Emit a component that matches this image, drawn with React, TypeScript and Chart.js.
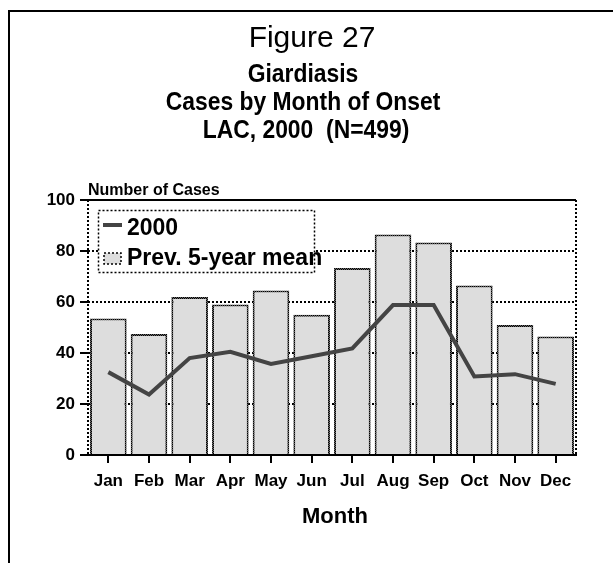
import React, { useEffect, useRef } from "react";
import { Chart, registerables } from "chart.js";
Chart.register(...registerables);

const months = ["Jan", "Feb", "Mar", "Apr", "May", "Jun", "Jul", "Aug", "Sep", "Oct", "Nov", "Dec"];
const cases2000 = [32.5, 23.7, 38, 40.5, 35.7, 38.7, 41.8, 58.8, 58.8, 30.8, 31.7, 27.9];
const prev5yrMean = [53.5, 47.5, 62, 59, 64.5, 55, 73.3, 86.5, 83.3, 66.5, 51, 46.5];
const yTickValues = [0, 20, 40, 60, 80, 100];
const figureLabel = "Figure 27";
const titleLines = ["Giardiasis", "Cases by Month of Onset", "LAC, 2000  (N=499)"];
const yAxisLabel = "Number of Cases";
const xAxisLabel = "Month";
const legendLabels = ["2000", "Prev. 5-year mean"];

const FONT = "'Liberation Sans', Arial, sans-serif";

function makeDotPattern(): CanvasPattern | string {
  const c = document.createElement("canvas");
  c.width = 2;
  c.height = 2;
  const g = c.getContext("2d");
  if (!g) return "#000";
  g.fillStyle = "#666666";
  g.fillRect(0, 0, 2, 2);
  g.fillStyle = "#000000";
  g.fillRect(0, 0, 1, 1);
  g.fillRect(1, 1, 1, 1);
  return g.createPattern(c, "repeat") || "#000";
}

function narrowText(ctx: CanvasRenderingContext2D, text: string, cx: number, y: number, font: string, sx: number, align: "center" | "left") {
  ctx.save();
  ctx.font = font;
  ctx.textAlign = align;
  ctx.translate(cx, y);
  ctx.scale(sx, 1);
  ctx.fillText(text, 0, 0);
  ctx.restore();
}

export default function App() {
  const ref = useRef<HTMLCanvasElement | null>(null);

  useEffect(() => {
    const canvas = ref.current;
    if (!canvas) return;
    const dot = makeDotPattern();

    const decor = {
      id: "decor",
      beforeDraw(chart: any) {
        const ctx = chart.ctx;
        ctx.save();
        ctx.fillStyle = "#fff";
        ctx.fillRect(0, 0, chart.width, chart.height);
        ctx.strokeStyle = "#000";
        ctx.lineWidth = 2;
        ctx.beginPath();
        ctx.moveTo(9, chart.height + 5);
        ctx.lineTo(9, 11);
        ctx.lineTo(chart.width + 5, 11);
        ctx.stroke();
        ctx.restore();
      },
      afterDraw(chart: any) {
        const ctx = chart.ctx;
        const a = chart.chartArea;
        ctx.save();
        // titles
        ctx.fillStyle = "#000";
        ctx.textBaseline = "alphabetic";
        narrowText(ctx, figureLabel, 312, 47, `30px ${FONT}`, 1, "center");
        const tf = `bold 26px ${FONT}`;
        narrowText(ctx, titleLines[0], 303, 82, tf, 0.88, "center");
        narrowText(ctx, titleLines[1], 303, 110, tf, 0.88, "center");
        narrowText(ctx, titleLines[2], 306, 138, tf, 0.88, "center");
        // axis labels
        narrowText(ctx, yAxisLabel, a.left, 195, `bold 16px ${FONT}`, 1, "left");
        narrowText(ctx, xAxisLabel, (a.left + a.right) / 2 + 3, 523, `bold 22px ${FONT}`, 1, "center");

        // top solid line
        ctx.strokeStyle = "#000";
        ctx.lineWidth = 2;
        ctx.setLineDash([]);
        ctx.beginPath();
        ctx.moveTo(a.left, a.top);
        ctx.lineTo(a.right, a.top);
        ctx.stroke();
        // left & right dotted
        ctx.setLineDash([2, 2]);
        ctx.beginPath();
        ctx.moveTo(a.left, a.top);
        ctx.lineTo(a.left, a.bottom);
        ctx.moveTo(a.right, a.top);
        ctx.lineTo(a.right, a.bottom);
        ctx.stroke();

        // legend
        const lx = 98.5, ly = 210.5, lw = 216, lh = 62;
        ctx.setLineDash([]);
        ctx.fillStyle = "#fff";
        ctx.fillRect(lx, ly, lw, lh);
        ctx.setLineDash([2, 2]);
        ctx.lineWidth = 1.5;
        ctx.strokeStyle = "#000";
        ctx.strokeRect(lx, ly, lw, lh);
        ctx.setLineDash([]);
        ctx.strokeStyle = "#444";
        ctx.lineWidth = 4;
        ctx.beginPath();
        ctx.moveTo(103, 225);
        ctx.lineTo(122, 225);
        ctx.stroke();
        ctx.fillStyle = "#dddddd";
        ctx.fillRect(104, 253, 17, 11);
        ctx.setLineDash([2, 2]);
        ctx.lineWidth = 1.5;
        ctx.strokeStyle = "#000";
        ctx.strokeRect(104, 253, 17, 11);
        ctx.setLineDash([]);
        ctx.fillStyle = "#000";
        narrowText(ctx, legendLabels[0], 127, 235, `bold 23px ${FONT}`, 1, "left");
        narrowText(ctx, legendLabels[1], 127, 265, `bold 23px ${FONT}`, 1, "left");
        ctx.restore();
      },
    };

    const chart = new Chart(canvas, {
      data: {
        labels: months,
        datasets: [
          {
            type: "line",
            label: legendLabels[0],
            data: cases2000,
            borderColor: "#444444",
            borderWidth: 4,
            pointRadius: 0,
            tension: 0,
            order: 0,
          },
          {
            type: "bar",
            label: legendLabels[1],
            data: prev5yrMean,
            backgroundColor: "#dddddd",
            borderColor: dot as any,
            borderWidth: 2,
            barPercentage: 0.9,
            categoryPercentage: 1.0,
            order: 1,
          },
        ],
      } as any,
      options: {
        responsive: false,
        animation: false,
        layout: { padding: { top: 200, left: 0, right: 37, bottom: 0 } },
        plugins: { legend: { display: false }, tooltip: { enabled: false }, title: { display: false } },
        scales: {
          x: {
            offset: true,
            grid: { offset: false, drawOnChartArea: false, drawTicks: true, tickLength: 8, color: "#000", lineWidth: 2 },
            border: { display: true, color: "#000", width: 2 },
            ticks: { color: "#000", font: { family: FONT, size: 17, weight: "bold" }, padding: 8, maxRotation: 0, autoSkip: false },
            afterFit: (s: any) => { s.height = 108; },
          },
          y: {
            min: 0,
            max: 100,
            afterBuildTicks: (s: any) => { s.ticks = yTickValues.map((v) => ({ value: v })); },
            grid: { color: "#000", lineWidth: 2, drawTicks: true, tickLength: 8, tickColor: "#000", tickWidth: 2 },
            border: { display: false, dash: [2, 2] },
            ticks: { color: "#000", font: { family: FONT, size: 17, weight: "bold" }, padding: 5 },
            afterFit: (s: any) => { s.width = 88; },
          },
        },
      } as any,
      plugins: [decor],
    });
    return () => chart.destroy();
  }, []);

  return (
    <div style={{ position: "fixed", left: 0, top: 0, width: 613, height: 563 }}>
      <canvas ref={ref} width={613} height={563} style={{ display: "block" }} />
    </div>
  );
}
